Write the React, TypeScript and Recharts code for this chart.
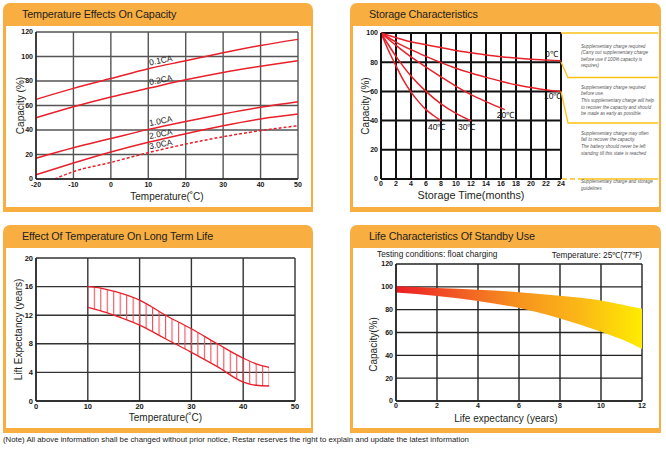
import React from "react";
import {
  LineChart,
  Line,
  AreaChart,
  Area,
  XAxis,
  YAxis,
  CartesianGrid,
  Label,
} from "recharts";

const ORANGE = "#f9ae41";
const RED = "#e8202a";
const YELLOW = "#fdc214";
const FONT = "'Liberation Sans', Arial, sans-serif";

// Temperature Effects On Capacity
const capTemps = [-20, -10, 0, 10, 20, 30, 40, 50];
const cap01CA = [65, 74, 82, 90, 96.5, 103, 109, 114];
const cap02CA = [50, 59, 67, 74, 81, 87, 92, 96.5];
const cap10CA = [17, 25.5, 33, 40.5, 47, 53, 58.5, 63];
const cap20CA = [3.5, 13, 22, 30, 37, 43.5, 49, 53];
const cap30Temps = [-15, -10, 0, 10, 20, 30, 40, 50];
const cap30CA = [0, 6, 13.5, 21.5, 28.5, 34.5, 39.5, 43.5];
const capXTicks = [-20, -10, 0, 10, 20, 30, 40, 50];
const capYTicks = [0, 20, 40, 60, 80, 100, 120];

// Storage Characteristics
const months0 = [0, 2, 4, 6, 8, 10, 12, 14, 16, 18, 20, 22, 24];
const store0C = [100, 96.8, 94, 92, 90, 88, 86.5, 85, 83.8, 82.8, 82, 81.5, 81];
const store10C = [100, 93.8, 88.6, 84, 79.7, 75.8, 72.6, 69.6, 67, 64.5, 62.6, 61, 60];
const months20 = [0, 2, 4, 6, 8, 10, 12, 14, 16.5];
const store20C = [100, 91.5, 83.6, 76.7, 70, 63.5, 57.8, 53, 47.5];
const months30 = [0, 2, 4, 6, 8, 10, 12];
const store30C = [100, 84, 70.5, 60, 51.5, 45, 40];
const months40 = [0, 1, 2, 3, 4, 5, 6, 7, 8];
const store40C = [100, 88, 77.5, 67.5, 59.5, 53, 47.5, 43.5, 40];
const storeXTicks = [0, 2, 4, 6, 8, 10, 12, 14, 16, 18, 20, 22, 24];
const storeYTicks = [0, 20, 40, 60, 80, 100];
const storeNotes = [
  ["Supplementary charge required", "(Carry out supplementary charge", "before use if 100% capacity is", "requires)"],
  ["Supplementary charge required", "before use.", "This supplementary charge will help", "to recover the capacity and should", "be made  as early as possible."],
  ["Supplementary charge may often", "fail to recover the capacity.", "The battery should never be left", "standing till this state is reached"],
  ["Supplementary charge and storage", "guidelines"],
];

// Effect Of Temperature On Long Term Life
const lifeTemps = [10, 12.5, 15, 20, 25, 30, 35, 40, 42.5, 45];
const lifeUpper = [16, 15.8, 15.35, 14.1, 12, 10.1, 8, 6, 5.2, 4.7];
const lifeLower = [13.1, 12.6, 12, 10.6, 8.7, 6.8, 4.8, 2.65, 2.2, 2.1];
const lifeXTicks = [0, 10, 20, 30, 40, 50];
const lifeYTicks = [0, 4, 8, 12, 16, 20];

// Life Characteristics Of Standby Use
const standbyYears = [0, 2, 4, 6, 8, 10, 11, 12];
const standbyHigh = [100.5, 99, 97.5, 95.3, 92.2, 88, 84.5, 80.7];
const standbyLow = [95, 92, 87.6, 81.5, 72.3, 60.7, 54, 45.6];
const standbyXTicks = [0, 2, 4, 6, 8, 10, 12];
const standbyYTicks = [0, 20, 40, 60, 80, 100, 120];

const pts = (xs: number[], ys: number[]) => xs.map((x, i) => ({ x, y: ys[i] }));
const bandData = (xs: number[], lo: number[], hi: number[]) =>
  xs.map((x, i) => ({ x, band: [lo[i], hi[i]] }));

const tickStyle = { fontSize: 7, fill: "#151515", fontWeight: 700, fontFamily: FONT };

const xTitle = (text: string, dy: number, dx = 0, size = 10) => (props: any) => {
  const vb = props.viewBox;
  return (
    <text x={vb.x + vb.width / 2 + dx} y={vb.y + dy} textAnchor="middle" dominantBaseline="central"
      fontSize={size} fill="#231f20" fontFamily={FONT}>{text}</text>
  );
};

const yTitle = (text: string, dx: number, dy = 0, size = 10) => (props: any) => {
  const vb = props.viewBox;
  const x = vb.x + dx;
  const y = vb.y + vb.height / 2 + dy;
  return (
    <text x={x} y={y} transform={`rotate(-90 ${x} ${y})`} textAnchor="middle" dominantBaseline="central"
      fontSize={size} fill="#231f20" fontFamily={FONT}>{text}</text>
  );
};

// rotated label sitting on a capacity curve
const rateLabel = (name: string, at: number) => (p: any) => {
  if (p.index !== at) return null;
  return (
    <text x={p.x + 2} y={p.y - 3} transform={`rotate(-11 ${p.x} ${p.y})`} fontSize={8.5}
      fill="#222" fontFamily={FONT}>{name}</text>
  );
};

// temperature tag at the end of a storage curve
const endLabel = (name: string, last: number, dx: number, dy: number) => (p: any) => {
  if (p.index !== last) return null;
  return (
    <text x={p.x + dx} y={p.y + dy} fontSize={8.5} fill="#111" fontFamily={FONT}>{name}</text>
  );
};

function Panel({ left, top, width, height, title }: any) {
  return (
    <div style={{ position: "absolute", left, top, width, height, background: ORANGE, borderRadius: "7px 7px 0 0" }}>
      <div style={{ position: "absolute", left: 19, top: 0, height: 23, lineHeight: "23px", fontSize: 10.8,
        letterSpacing: -0.15, color: "#231f20", fontFamily: FONT, whiteSpace: "nowrap" }}>{title}</div>
      <div style={{ position: "absolute", left: 3, top: 23, right: 2, bottom: 5, background: "#fff" }} />
    </div>
  );
}

function CapacityChart() {
  const series = [
    { name: "0.1CA", d: pts(capTemps, cap01CA) },
    { name: "0.2CA", d: pts(capTemps, cap02CA) },
    { name: "1.0CA", d: pts(capTemps, cap10CA) },
    { name: "2.0CA", d: pts(capTemps, cap20CA) },
  ];
  return (
    <LineChart width={305} height={180} margin={{ top: 6, right: 13, bottom: 0, left: 0 }}>
      <CartesianGrid stroke="#555" strokeWidth={1.4} />
      <XAxis type="number" dataKey="x" domain={[-20, 50]} ticks={capXTicks} interval={0} tickLine={false}
        tickSize={0} tickMargin={3} height={27} tick={tickStyle} axisLine={{ stroke: "#222", strokeWidth: 1.4 }}>
        <Label content={xTitle("Temperature(˚C)", 17)} />
      </XAxis>
      <YAxis type="number" dataKey="y" domain={[0, 120]} ticks={capYTicks} interval={0} tickLine={false}
        tickSize={0} tickMargin={3} width={30} tick={tickStyle} axisLine={{ stroke: "#222", strokeWidth: 1.4 }}>
        <Label content={yTitle("Capacity (%)", 14)} />
      </YAxis>
      {series.map((s) => (
        <Line key={s.name} data={s.d} dataKey="y" type="monotone" stroke={RED} strokeWidth={1.5} dot={false}
          isAnimationActive={false} label={rateLabel(s.name, 3)} />
      ))}
      <Line data={pts(cap30Temps, cap30CA)} dataKey="y" type="monotone" stroke={RED} strokeWidth={1.5}
        strokeDasharray="3 2" dot={false} isAnimationActive={false} label={rateLabel("3.0CA", 3)} />
    </LineChart>
  );
}

function StorageChart() {
  const series = [
    { name: "0℃", d: pts(months0, store0C), dx: -16, dy: -4 },
    { name: "10℃", d: pts(months0, store10C), dx: -17, dy: 8 },
    { name: "20℃", d: pts(months20, store20C), dx: -8, dy: 8 },
    { name: "30℃", d: pts(months30, store30C), dx: -13, dy: 9 },
    { name: "40℃", d: pts(months40, store40C), dx: -13, dy: 9 },
  ];
  return (
    <LineChart width={214} height={180} margin={{ top: 7, right: 5, bottom: 0, left: 0 }}>
      <CartesianGrid stroke="#111" strokeWidth={2} />
      <XAxis type="number" dataKey="x" domain={[0, 24]} ticks={storeXTicks} interval={0} tickLine={false}
        tickSize={0} tickMargin={2} height={27} tick={tickStyle} axisLine={{ stroke: "#111", strokeWidth: 2 }}>
        <Label content={xTitle("Storage  Time(months)", 16, 0, 10.8)} />
      </XAxis>
      <YAxis type="number" dataKey="y" domain={[0, 100]} ticks={storeYTicks} interval={0} tickLine={false}
        tickSize={0} tickMargin={3} width={29} tick={tickStyle} axisLine={{ stroke: "#111", strokeWidth: 2 }}>
        <Label content={yTitle("Capacity  (%)", 13)} />
      </YAxis>
      {series.map((s) => (
        <Line key={s.name} data={s.d} dataKey="y" type="monotone" stroke={RED} strokeWidth={1.5} dot={false}
          isAnimationActive={false} label={endLabel(s.name, s.d.length - 1, s.dx, s.dy)} />
      ))}
    </LineChart>
  );
}

function LifeChart() {
  return (
    <AreaChart width={305} height={180} data={bandData(lifeTemps, lifeLower, lifeUpper)}
      margin={{ top: 10, right: 16, bottom: 0, left: 0 }}>
      <defs>
        <pattern id="hatch" patternUnits="userSpaceOnUse" x={81.3} y={0} width={6.475} height={10}>
          <line x1={0.55} x2={0.55} y1={0} y2={10} stroke="#f0505c" strokeWidth={1.1} />
        </pattern>
      </defs>
      <CartesianGrid stroke="#333" strokeWidth={1.4} />
      <XAxis type="number" dataKey="x" domain={[0, 50]} ticks={lifeXTicks} interval={0} tickLine={false}
        tickSize={0} tickMargin={3} height={27} tick={{ ...tickStyle, fontSize: 7.5 }}
        axisLine={{ stroke: "#222", strokeWidth: 1.4 }}>
        <Label content={xTitle("Temperature(˚C)", 16)} />
      </XAxis>
      <YAxis type="number" domain={[0, 20]} ticks={lifeYTicks} interval={0} tickLine={false}
        tickSize={0} tickMargin={3} width={30} tick={{ ...tickStyle, fontSize: 7.5 }}
        axisLine={{ stroke: "#222", strokeWidth: 1.4 }}>
        <Label content={yTitle("Lift  Expectancy  (years)", 12)} />
      </YAxis>
      <Area dataKey="band" type="monotone" stroke={RED} strokeWidth={1.3} fill="url(#hatch)" fillOpacity={1}
        isAnimationActive={false} />
    </AreaChart>
  );
}

function StandbyChart() {
  return (
    <AreaChart width={300} height={170} data={bandData(standbyYears, standbyLow, standbyHigh)}
      margin={{ top: 6, right: 10, bottom: 0, left: 0 }}>
      <defs>
        <linearGradient id="standbyFill" x1="0" y1="0" x2="1" y2="0">
          <stop offset="0%" stopColor="#ed1c24" />
          <stop offset="25%" stopColor="#f15a24" />
          <stop offset="50%" stopColor="#f7931e" />
          <stop offset="75%" stopColor="#fbb817" />
          <stop offset="100%" stopColor="#ffec00" />
        </linearGradient>
      </defs>
      <CartesianGrid stroke="#222" strokeWidth={1.4} />
      <XAxis type="number" dataKey="x" domain={[0, 12]} ticks={standbyXTicks} interval={0} tickLine={false}
        tickSize={0} tickMargin={2} height={27} tick={tickStyle} axisLine={{ stroke: "#222", strokeWidth: 1.4 }}>
        <Label content={xTitle("Life expectancy (years)", 17, -13)} />
      </XAxis>
      <YAxis type="number" domain={[0, 120]} ticks={standbyYTicks} interval={0} tickLine={false}
        tickSize={0} tickMargin={3} width={44} tick={tickStyle} axisLine={{ stroke: "#222", strokeWidth: 1.4 }}>
        <Label content={yTitle("Capacity(%)", 21, 12)} />
      </YAxis>
      <Area dataKey="band" type="monotone" stroke="none" fill="url(#standbyFill)" fillOpacity={1}
        isAnimationActive={false} />
    </AreaChart>
  );
}

function StorageNotes() {
  const starts = [46, 87.3, 133.3, 181.7];
  return (
    <svg width={666} height={450} style={{ position: "absolute", left: 0, top: 0, pointerEvents: "none" }}>
      <g stroke={YELLOW} strokeWidth={1.3} fill="none">
        <polyline points="561,33 658,33" />
        <polyline points="561,62 568,77.5 658,77.5" />
        <polyline points="561,91.5 568,123 658,123" />
        <polyline points="562,179 580,179" strokeDasharray="5 3" />
        <polyline points="580,179 658,179" />
      </g>
      {storeNotes.map((lines, b) =>
        lines.map((t, i) => (
          <text key={`${b}-${i}`} x={581} y={starts[b] + i * 6.6} dominantBaseline="central" fontSize={4.6}
            fontStyle="italic" fill="#555" fontFamily={FONT}>{t}</text>
        ))
      )}
    </svg>
  );
}

export default function App() {
  return (
    <div style={{ position: "absolute", left: 0, top: 0, width: 666, height: 450, background: "#fff", fontFamily: FONT }}>
      <Panel left={3} top={3} width={310} height={209} title="Temperature Effects On Capacity" />
      <Panel left={350} top={3} width={311} height={209} title="Storage Characteristics" />
      <Panel left={3} top={225} width={310} height={208} title="Effect Of Temperature On Long Term Life" />
      <Panel left={350} top={225} width={311} height={208} title="Life Characteristics Of Standby Use" />

      <div style={{ position: "absolute", left: 6, top: 26 }}><CapacityChart /></div>
      <div style={{ position: "absolute", left: 352, top: 26 }}><StorageChart /></div>
      <div style={{ position: "absolute", left: 6, top: 248 }}><LifeChart /></div>
      <div style={{ position: "absolute", left: 352, top: 258 }}><StandbyChart /></div>
      <StorageNotes />

      <div style={{ position: "absolute", left: 377, top: 249, fontSize: 8.3, color: "#222", whiteSpace: "nowrap" }}>
        Testing conditions: float charging
      </div>
      <div style={{ position: "absolute", right: 666 - 642, top: 249, fontSize: 8.3, color: "#222", whiteSpace: "nowrap" }}>
        Temperature: 25℃(77℉)
      </div>
      <div style={{ position: "absolute", left: 3, top: 435, fontSize: 7.8, color: "#222", whiteSpace: "nowrap" }}>
        (Note) All above information shall be changed without prior notice, Restar reserves the right to explain and update the latest information
      </div>
    </div>
  );
}
